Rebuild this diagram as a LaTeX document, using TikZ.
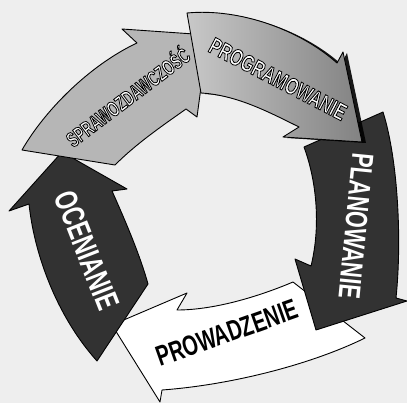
\documentclass[tikz,border=0pt]{standalone}
\usepackage{fontspec}
\usetikzlibrary{shadows}
\newfontfamily\lblfont[FakeStretch=0.7]{Liberation Sans}
\newfontfamily\narrowlblfont[FakeStretch=0.64]{Liberation Sans}
\definecolor{paper}{RGB}{238,238,238}
\definecolor{lightarrow}{RGB}{182,182,182}
\definecolor{progleft}{RGB}{200,200,200}
\definecolor{progright}{RGB}{130,130,130}
\definecolor{darkarrow}{RGB}{50,50,50}
\newcommand{\outlined}[1]{\special{pdf:literal direct 0 G 0.8 w 2 Tr}#1\special{pdf:literal direct 0 Tr}}

\begin{document}
\begin{tikzpicture}[x=1pt,y=-1pt]
	\tikzstyle{band}
	  =[draw=black, line width=0.9pt, line join=round]
	\tikzstyle{lbl}
	  =[text=white, inner sep=0pt]

	\fill[paper] (0,0) rectangle (407,403);
	\useasboundingbox (0,0) rectangle (407,403);

	\path[band, fill=white] (365,338) -- (293,282)
	  .. controls (260,296) and (215,310) .. (177,310) -- (187,293)
	  -- (112,325) -- (160,402) -- (162,390)
	  .. controls (230,385) and (310,365) .. (365,338) -- cycle;
	\path[band, fill=darkarrow] (383,112)
	  .. controls (398,160) and (402,240) .. (396,298) -- (407,301)
	  -- (316,330) -- (295,259) -- (311,266)
	  .. controls (320,230) and (318,185) .. (304,147) -- cycle;
	\path[band, fill=darkarrow] (97,361)
	  .. controls (60,320) and (35,260) .. (29,204) -- (9,211)
	  -- (62,152) -- (127,189) -- (112,191)
	  .. controls (125,220) and (140,255) .. (148,284) -- cycle;
	\path[band, fill=lightarrow] (22,150)
	  .. controls (45,110) and (90,65) .. (137,43) -- (122,29)
	  -- (208,35) -- (197,117) -- (186,109)
	  .. controls (165,124) and (138,142) .. (115,165) -- cycle;
	\path[band, left color=progleft, right color=progright,
	  drop shadow={shadow xshift=4pt, shadow yshift=-1pt, fill=black, opacity=0.9}]
	  (187,13) .. controls (240,8) and (300,30) .. (337,63) -- (343,52)
	  -- (362,142) -- (283,137) -- (299,127)
	  .. controls (265,110) and (235,95) .. (201,93) -- cycle;

	\node[lbl, rotate=37, font={\narrowlblfont\bfseries\fontsize{21.3}{21.3}\selectfont}] (sprawo)
	  at (127,96) {\outlined{SPRAWOZDAWCZOŚĆ}};
	\node[lbl, rotate=-27.5, font={\lblfont\bfseries\fontsize{23.3}{23.3}\selectfont}] (progr)
	  at (278,79) {\outlined{PROGRAMOWANIE}};
	\node[lbl, rotate=-95.6, font={\lblfont\bfseries\fontsize{30.7}{30.7}\selectfont}] (plan)
	  at (356,226) {PLANOWANIE};
	\node[lbl, text=black, rotate=19.5, font={\lblfont\bfseries\fontsize{28.4}{28.4}\selectfont}] (prowa)
	  at (227,333) {PROWADZENIE};
	\node[lbl, rotate=-68.5, font={\lblfont\bfseries\fontsize{32}{32}\selectfont}] (ocen)
	  at (87,250) {OCENIANIE};
\end{tikzpicture}
\end{document}
